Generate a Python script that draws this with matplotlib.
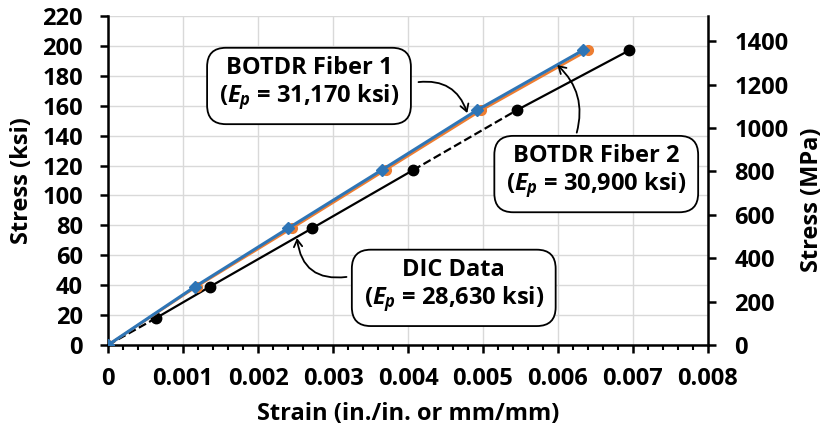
import numpy as np
import matplotlib
matplotlib.use('Agg')
import matplotlib.pyplot as plt
from matplotlib.ticker import MultipleLocator, FixedLocator, FixedFormatter

plt.rcParams['font.family'] = ['Open Sans', 'DejaVu Sans']
plt.rcParams['font.weight'] = 'bold'
plt.rcParams['mathtext.fontset'] = 'custom'
plt.rcParams['mathtext.it'] = 'Open Sans:italic:bold'
plt.rcParams['mathtext.rm'] = 'Open Sans:bold'

# 数据
dic_strain = [0, 0.00064, 0.00136, 0.00272, 0.00407, 0.00545, 0.00695]
dic_stress = [0, 18, 39, 78, 117, 157, 197]
dic_dashed = [0, 4]   # 虚线段（起点索引）

f1_strain = [0, 0.00116, 0.00240, 0.00365, 0.00492, 0.00633]
f1_stress = [0, 39, 78, 117, 157, 197]

f2_strain = [0, 0.00118, 0.00245, 0.00370, 0.00498, 0.00640]
f2_stress = [0, 39, 78, 117, 157, 197]

x_ticks = [0, 0.001, 0.002, 0.003, 0.004, 0.005, 0.006, 0.007, 0.008]
x_labels = ['0', '0.001', '0.002', '0.003', '0.004', '0.005', '0.006', '0.007', '0.008']
ksi_to_mpa = 6.895

fig = plt.figure(figsize=(8.27, 4.32), dpi=100)
ax = fig.add_axes([0.1306, 0.2014, 0.7255, 0.7616])

blue = '#2E75B6'
orange = '#ED7D31'
fs = 17

# DIC 曲线，部分线段为虚线
for i in range(len(dic_strain) - 1):
    ls = '--' if i in dic_dashed else '-'
    ax.plot(dic_strain[i:i + 2], dic_stress[i:i + 2], color='black', lw=1.6, ls=ls, zorder=3)
ax.plot(dic_strain[1:], dic_stress[1:], 'o', color='black', ms=7.5, zorder=3)

ax.plot(f2_strain, f2_stress, '-o', color=orange, lw=1.8, ms=7, zorder=4)
ax.plot(f1_strain, f1_stress, '-D', color=blue, lw=2.2, ms=6.5, zorder=5)

ax.set_xlim(0, 0.008)
ax.set_ylim(0, 220)
ax.xaxis.set_major_locator(FixedLocator(x_ticks))
ax.xaxis.set_major_formatter(FixedFormatter(x_labels))
ax.xaxis.set_minor_locator(MultipleLocator(0.0002))
ax.yaxis.set_major_locator(MultipleLocator(20))
ax.grid(True, which='major', color='#d9d9d9', lw=1.0, zorder=0)
ax.set_axisbelow(True)

for s in ['left', 'bottom']:
    ax.spines[s].set_linewidth(1.8)
ax.spines['top'].set_visible(False)
ax.spines['right'].set_visible(False)

ax.tick_params(axis='both', which='major', direction='out', length=6, width=1.8, labelsize=fs, pad=12)
ax.tick_params(axis='x', which='minor', direction='out', length=3.5, width=1.5)
ax.tick_params(axis='x', which='major', pad=10)

ax.set_xlabel('Strain (in./in. or mm/mm)', fontsize=fs, fontweight='bold', labelpad=8)
ax.set_ylabel('Stress (ksi)', fontsize=fs, fontweight='bold', labelpad=6)

ax2 = ax.twinx()
ax2.set_ylim(0, 220 * ksi_to_mpa)
ax2.yaxis.set_major_locator(FixedLocator(np.arange(0, 1401, 200)))
ax2.spines['right'].set_linewidth(1.8)
ax2.spines['top'].set_visible(False)
ax2.spines['left'].set_visible(False)
ax2.spines['bottom'].set_visible(False)
ax2.tick_params(axis='y', direction='out', length=6, width=1.8, labelsize=fs, pad=13)
ax2.set_ylabel('Stress (MPa)', fontsize=fs, fontweight='bold', labelpad=8)
ax2.yaxis.label.set_y(0.44)

# 注释框
box = dict(boxstyle='round,pad=0.5,rounding_size=0.8', fc='white', ec='black', lw=1.3)
arrow_kw = dict(arrowstyle='->,head_length=0.5,head_width=0.3', color='black', lw=1.3, shrinkA=0, shrinkB=0)

ax.text(0.00268, 174.5, 'BOTDR Fiber 1\n($\\mathit{E}_\\mathit{p}$ = 31,170 ksi)', ha='center', va='center',
        fontsize=fs, fontweight='bold', bbox=box, linespacing=1.15, zorder=6)
ax.annotate('', xy=(0.00479, 155.1), xytext=(0.00414, 175.8),
            arrowprops=dict(connectionstyle='arc3,rad=-0.4', **arrow_kw), zorder=6)

ax.text(0.00651, 115.6, 'BOTDR Fiber 2\n($\\mathit{E}_\\mathit{p}$ = 30,900 ksi)', ha='center', va='center',
        fontsize=fs, fontweight='bold', bbox=box, linespacing=1.15, zorder=6)
ax.annotate('', xy=(0.00599, 187.2), xytext=(0.00625, 142),
            arrowprops=dict(connectionstyle='arc3,rad=0.3', **arrow_kw), zorder=6)

ax.text(0.00461, 39.5, 'DIC Data\n($\\mathit{E}_\\mathit{p}$ = 28,630 ksi)', ha='center', va='center',
        fontsize=fs, fontweight='bold', bbox=box, linespacing=1.15, zorder=6)
ax.annotate('', xy=(0.00252, 71.5), xytext=(0.00318, 45.5),
            arrowprops=dict(connectionstyle='arc3,rad=-0.5', **arrow_kw), zorder=6)

fig.savefig('out.png', dpi=100)
